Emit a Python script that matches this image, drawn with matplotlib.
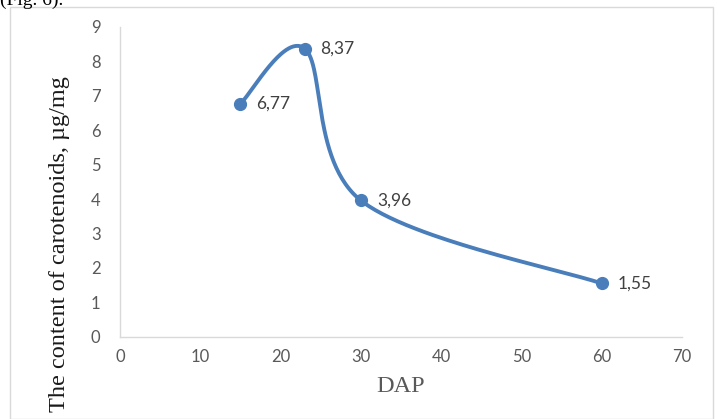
import numpy as np
import matplotlib.pyplot as plt
from matplotlib.patches import Rectangle

# data
dap = [15, 23, 30, 60]
carotenoids = [6.77, 8.37, 3.96, 1.55]
labels = ["6,77", "8,37", "3,96", "1,55"]

blue = "#4A7EBB"
grey_txt = "#595959"

fig = plt.figure(figsize=(7.18, 4.19), dpi=100)
ax = fig.add_axes([0.167, 0.196, 0.783, 0.740])
ax.set_xlim(0, 70)
ax.set_ylim(0, 9)
ax.set_xticks(range(0, 71, 10))
ax.set_yticks(range(0, 10))

for s in ["top", "right"]:
    ax.spines[s].set_visible(False)
for s in ["left", "bottom"]:
    ax.spines[s].set_color("#d9d9d9")
    ax.spines[s].set_linewidth(1.0)
ax.tick_params(length=0, labelsize=12, labelcolor=grey_txt)
ax.tick_params(axis="y", pad=14)
ax.tick_params(axis="x", pad=9)
for lab in ax.get_xticklabels() + ax.get_yticklabels():
    lab.set_family("Lato")

# Excel-like smoothed line: cubic Bezier segments built in display space
fig.canvas.draw()
pts = ax.transData.transform(np.column_stack([dap, carotenoids]))
n = len(pts)
curve = []
for i in range(n - 1):
    p0 = pts[i - 1] if i > 0 else pts[i]
    p1 = pts[i]
    p2 = pts[i + 1]
    p3 = pts[i + 2] if i + 2 < n else pts[i + 1]
    c1 = p1 + (p2 - p0) / 6
    c2 = p2 - (p3 - p1) / 6
    t = np.linspace(0, 1, 60)[:, None]
    seg = (1 - t) ** 3 * p1 + 3 * (1 - t) ** 2 * t * c1 + 3 * (1 - t) * t ** 2 * c2 + t ** 3 * p2
    curve.append(seg)
curve = ax.transData.inverted().transform(np.vstack(curve))
ax.plot(curve[:, 0], curve[:, 1], color=blue, lw=2.8, solid_capstyle="round")
ax.plot(dap, carotenoids, "o", color=blue, ms=8.5, zorder=3)

for x, y, s in zip(dap, carotenoids, labels):
    ax.annotate(s, (x, y), xytext=(11.5, 0), textcoords="offset points",
                va="center", ha="left", fontsize=12.5, color="#404040", family="Lato")

ax.set_xlabel("DAP", family="Liberation Serif", fontsize=17.5, color=grey_txt)
ax.xaxis.set_label_coords(0.5, -0.125)
ax.set_ylabel("The content of carotenoids, \u00b5g/mg", family="Liberation Serif",
              fontsize=17.5, color="#1a1a1a")
ax.yaxis.set_label_coords(-0.089, 0.3)

# chart frame
fig.patches.append(Rectangle((10 / 718, 0), 703 / 718, 1 - 7 / 419, transform=fig.transFigure,
                             fill=False, edgecolor="#d9d9d9", lw=1.0))
fig.text(0.0, 1.0, "(Fig. 6).", family="Liberation Serif", fontsize=14, va="center", ha="left")

fig.savefig("out.png", dpi=100)
